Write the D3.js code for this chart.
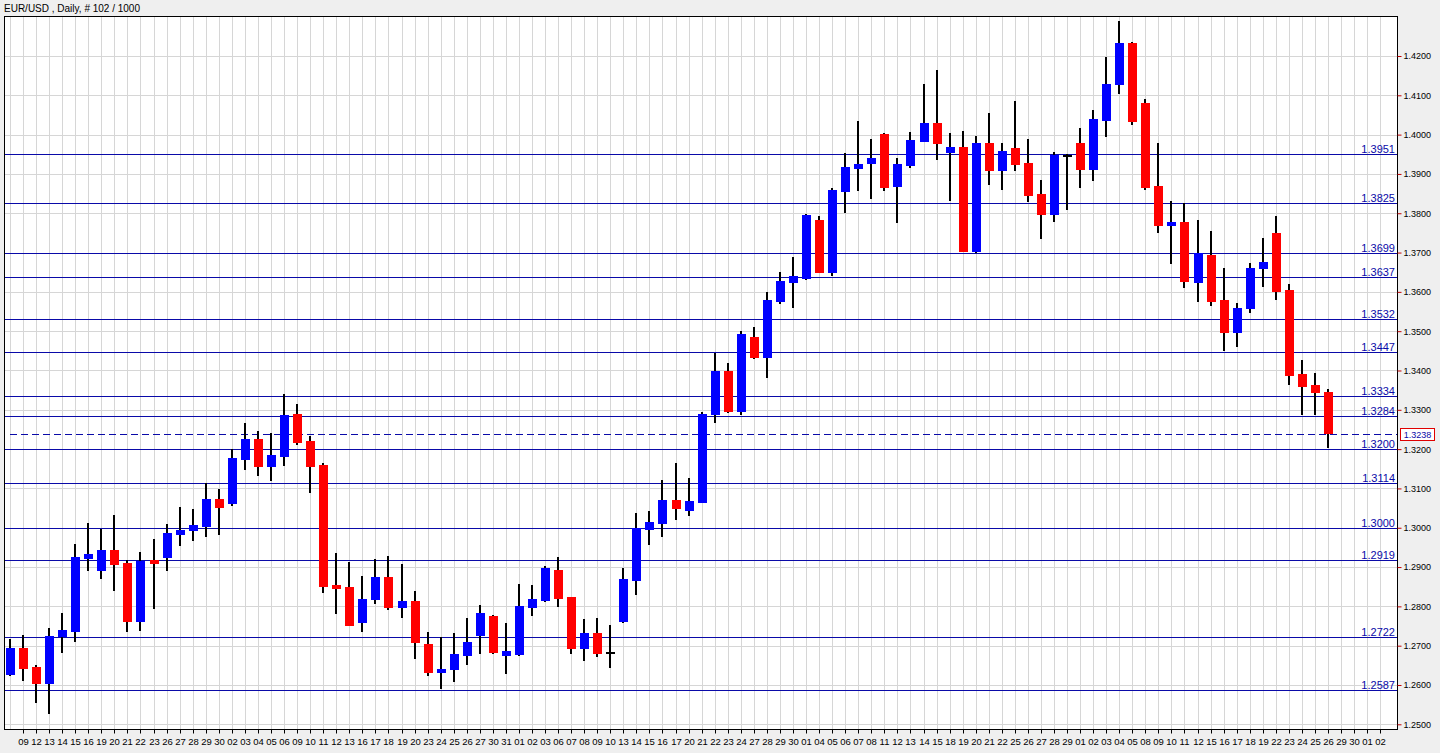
<!DOCTYPE html>
<html>
<head>
<meta charset="utf-8">
<script src="https://cdn.jsdelivr.net/npm/d3@7"></script>
<style>
  html, body { margin: 0; padding: 0; background: #efefef; }
  svg { display: block; }
  text { font-family: "Liberation Sans", Arial, sans-serif; }
</style>
</head>
<body>
<svg id="chart" width="1440" height="753"></svg>
<script>
// ---------------- data ----------------
const title = "EUR/USD , Daily, # 102 / 1000";

// x-axis labels for bar slots 1..105 (slot 0 unlabeled)
const dateLabels = [
  "09","12","13","14","15","16","19","20","21","22","23","26","27","28","29","30",
  "02","03","04","05","06","09","10","11","12","13","16","17","18","19","20","23","24","25","26","27",
  "30","31","01","02","03","06","07","08","09","10","13","14","15","16","17","20","21","22","23","24",
  "27","28","29","30","01","04","05","06","07","08","11","12","13","14","15","18",
  "19","20","21","22","25","26","27","28","29","01","02","03","04","05","08","09","10","11","12",
  "15","16","17","18","19","22","23","24","25","26","29","30","01","02"
];

const opens = [
  1.2625,1.2695,1.2646,1.2602,1.2721,1.2735,1.2921,1.2891,1.2943,1.2910,
  1.2761,1.2918,1.2922,1.2982,1.2991,1.3002,1.3073,1.3060,1.3172,1.3226,
  1.3155,1.3181,1.3290,1.3221,1.3160,1.2855,1.2850,1.2758,1.2815,1.2875,
  1.2797,1.2814,1.2704,1.2631,1.2637,1.2674,1.2724,1.2776,1.2674,1.2676,
  1.2797,1.2814,1.2892,1.2824,1.2692,1.2732,1.2681,1.2760,1.2865,1.2994,
  1.3010,1.3070,1.3043,1.3063,1.3287,1.3399,1.3295,1.3486,1.3433,1.3575,
  1.3623,1.3633,1.3783,1.3649,1.3855,1.3913,1.3926,1.4002,1.3868,1.3921,
  1.3982,1.4030,1.3952,1.3969,1.3701,1.3979,1.3908,1.3965,1.3928,1.3849,
  1.3796,1.3946,1.3979,1.3911,1.4035,1.4126,1.4233,1.4081,1.3869,1.3768,
  1.3779,1.3623,1.3694,1.3579,1.3496,1.3556,1.3657,1.3749,1.3605,1.3392,
  1.3363,1.3345
];
const highs = [
  1.2717,1.2727,1.2651,1.2744,1.2783,1.2958,1.3011,1.2996,1.3032,1.2918,
  1.2938,1.2971,1.3010,1.3054,1.3048,1.3114,1.3098,1.3200,1.3266,1.3246,
  1.3240,1.3339,1.3315,1.3233,1.3165,1.2937,1.2913,1.2877,1.2921,1.2928,
  1.2908,1.2840,1.2734,1.2723,1.2731,1.2770,1.2804,1.2779,1.2757,1.2858,
  1.2854,1.2902,1.2925,1.2825,1.2768,1.2771,1.2753,1.2897,1.3037,1.3043,
  1.3122,1.3164,1.3127,1.3294,1.3444,1.3420,1.3501,1.3511,1.3600,1.3651,
  1.3689,1.3798,1.3792,1.3865,1.3953,1.4035,1.3989,1.4005,1.3941,1.4007,
  1.4129,1.4164,1.4005,1.4009,1.3996,1.4054,1.3979,1.4086,1.3989,1.3885,
  1.3955,1.3951,1.4017,1.4063,1.4197,1.4289,1.4235,1.4091,1.3979,1.3831,
  1.3825,1.3783,1.3755,1.3660,1.3571,1.3673,1.3736,1.3793,1.3619,1.3427,
  1.3393,1.3354
];
const lows = [
  1.2624,1.2610,1.2553,1.2525,1.2682,1.2710,1.2891,1.2870,1.2840,1.2734,
  1.2737,1.2793,1.2891,1.2954,1.2966,1.2977,1.2982,1.3056,1.3147,1.3132,
  1.3120,1.3156,1.3210,1.3088,1.2833,1.2781,1.2749,1.2735,1.2805,1.2792,
  1.2771,1.2665,1.2624,1.2589,1.2608,1.2651,1.2678,1.2680,1.2627,1.2674,
  1.2775,1.2810,1.2799,1.2678,1.2660,1.2670,1.2644,1.2758,1.2829,1.2957,
  1.2977,1.3019,1.3031,1.3062,1.3267,1.3292,1.3287,1.3428,1.3382,1.3568,
  1.3560,1.3630,1.3647,1.3640,1.3800,1.3857,1.3835,1.3857,1.3776,1.3914,
  1.3982,1.3935,1.3831,1.3701,1.3700,1.3872,1.3859,1.3907,1.3829,1.3734,
  1.3778,1.3808,1.3865,1.3883,1.3995,1.4103,1.4024,1.3860,1.3751,1.3672,
  1.3610,1.3575,1.3565,1.3450,1.3461,1.3545,1.3612,1.3579,1.3362,1.3287,
  1.3287,1.3202
];
const closes = [
  1.2695,1.2641,1.2602,1.2724,1.2740,1.2925,1.2933,1.2943,1.2906,1.2761,
  1.2915,1.2908,1.2987,1.2994,1.3006,1.3073,1.3051,1.3177,1.3226,1.3155,
  1.3185,1.3287,1.3216,1.3155,1.2850,1.2845,1.2751,1.2818,1.2875,1.2796,
  1.2814,1.2708,1.2631,1.2641,1.2679,1.2709,1.2784,1.2682,1.2687,1.2801,
  1.2819,1.2897,1.2819,1.2692,1.2732,1.2680,1.2682,1.2869,1.2999,1.3015,
  1.3071,1.3048,1.3067,1.3289,1.3399,1.3295,1.3493,1.3433,1.3579,1.3628,
  1.3640,1.3796,1.3649,1.3859,1.3918,1.3925,1.3941,1.3865,1.3925,1.3986,
  1.4030,1.3976,1.3968,1.3701,1.3979,1.3908,1.3958,1.3923,1.3844,1.3796,
  1.3948,1.3947,1.3911,1.4040,1.4129,1.4233,1.4033,1.3863,1.3768,1.3779,
  1.3625,1.3698,1.3575,1.3496,1.3558,1.3660,1.3677,1.3600,1.3387,1.3359,
  1.3342,1.3238
];

const levels = [1.3951,1.3825,1.3699,1.3637,1.3532,1.3447,1.3334,1.3284,1.3200,1.3114,1.3000,1.2919,1.2722,1.2587];
const currentPrice = 1.3238;
const yTicks = [1.25,1.26,1.27,1.28,1.29,1.30,1.31,1.32,1.33,1.34,1.35,1.36,1.37,1.38,1.39,1.40,1.41,1.42];
const slotCount = 106;

// ---------------- layout ----------------
const svg = d3.select("#chart");
const plot = { left: 4, top: 16, right: 1397, bottom: 729 };

const x = d3.scaleLinear().domain([0, 105]).range([10, 10 + 105 * 13.05]);
const y = d3.scaleLinear().domain([1.25, 1.42]).range([724.3, 56]);

const col = {
  bull: "#0000ff", bear: "#ff0000", wick: "#000000",
  level: "#0a0aa8", grid: "#d6d6d6", tick: "#c00000"
};

// background
svg.append("rect").attr("x", 0).attr("y", 0).attr("width", 1440).attr("height", 753).attr("fill", "#efefef");
svg.append("rect").attr("x", plot.left).attr("y", plot.top)
  .attr("width", plot.right - plot.left).attr("height", plot.bottom - plot.top).attr("fill", "#ffffff");

svg.append("clipPath").attr("id", "pclip").append("rect")
  .attr("x", plot.left).attr("y", plot.top).attr("width", plot.right - plot.left).attr("height", plot.bottom - plot.top);

const g = svg.append("g").attr("clip-path", "url(#pclip)");

// grid
const slots = d3.range(slotCount);
g.selectAll("line.vg").data(slots).join("line")
  .attr("x1", i => Math.round(x(i)) + 0.5).attr("x2", i => Math.round(x(i)) + 0.5)
  .attr("y1", plot.top).attr("y2", plot.bottom)
  .attr("stroke", col.grid).attr("stroke-width", 1);
g.selectAll("line.hg").data(yTicks).join("line")
  .attr("x1", plot.left).attr("x2", plot.right)
  .attr("y1", v => Math.round(y(v)) + 0.5).attr("y2", v => Math.round(y(v)) + 0.5)
  .attr("stroke", col.grid).attr("stroke-width", 1);

// levels
g.selectAll("line.lv").data(levels).join("line")
  .attr("x1", plot.left).attr("x2", plot.right)
  .attr("y1", v => Math.round(y(v)) + 0.5).attr("y2", v => Math.round(y(v)) + 0.5)
  .attr("stroke", col.level).attr("stroke-width", 1);

// current price dashed
g.append("line")
  .attr("x1", 10).attr("x2", plot.right)
  .attr("y1", Math.round(y(currentPrice)) + 0.5).attr("y2", Math.round(y(currentPrice)) + 0.5)
  .attr("stroke", col.level).attr("stroke-width", 1).attr("stroke-dasharray", "7,4");

// candles
const bars = d3.range(opens.length).map(i => ({ i, o: opens[i], h: highs[i], l: lows[i], c: closes[i] }));
const isDoji = d => Math.abs(d.c - d.o) < 0.0003;
const cg = g.append("g");
cg.selectAll("rect.wick").data(bars).join("rect")
  .attr("x", d => Math.round(x(d.i)) - 1).attr("width", 2)
  .attr("y", d => Math.round(y(d.h))).attr("height", d => Math.max(1, Math.round(y(d.l)) - Math.round(y(d.h))))
  .attr("fill", col.wick);
cg.selectAll("rect.body").data(bars).join("rect")
  .attr("x", d => Math.round(x(d.i)) - 4).attr("width", 9)
  .attr("y", d => isDoji(d) ? Math.round(y((d.o + d.c) / 2)) - 1 : Math.round(y(Math.max(d.o, d.c))))
  .attr("height", d => isDoji(d) ? 2 : Math.max(2, Math.round(y(Math.min(d.o, d.c))) - Math.round(y(Math.max(d.o, d.c)))))
  .attr("fill", d => isDoji(d) ? col.wick : (d.c > d.o ? col.bull : col.bear));

// level labels
svg.selectAll("text.lvl").data(levels).join("text")
  .attr("x", 1395).attr("y", v => Math.round(y(v)) - 1)
  .attr("text-anchor", "end").attr("font-size", "11px").attr("fill", col.level)
  .text(v => v.toFixed(4));

// frame
svg.append("rect").attr("x", plot.left + 0.5).attr("y", plot.top + 0.5)
  .attr("width", plot.right - plot.left).attr("height", plot.bottom - plot.top)
  .attr("fill", "none").attr("stroke", "#000").attr("stroke-width", 1);

// right axis
const yAxis = d3.axisRight(y).tickValues(yTicks).tickSize(4).tickPadding(2).tickFormat(d3.format(".4f"));
const ya = svg.append("g").attr("transform", `translate(${plot.right + 0.5},0)`).call(yAxis);
ya.select(".domain").remove();
ya.selectAll(".tick line").attr("stroke", col.tick);
ya.selectAll(".tick text").attr("font-size", "9px").attr("fill", "#000").attr("font-family", "Liberation Sans, Arial, sans-serif");

// bottom axis
const xa = svg.append("g").attr("transform", `translate(0,${plot.bottom + 0.5})`);
xa.selectAll("line").data(slots.slice(1)).join("line")
  .attr("x1", i => Math.round(x(i)) + 0.5).attr("x2", i => Math.round(x(i)) + 0.5)
  .attr("y1", 0).attr("y2", 4).attr("stroke", "#000");
xa.selectAll("text").data(slots.slice(1)).join("text")
  .attr("x", i => Math.round(x(i)) + 0.5).attr("y", 15.5)
  .attr("text-anchor", "middle").attr("font-size", "9.5px").attr("fill", "#000")
  .text(i => dateLabels[i - 1]);

// current price box
const cpY = Math.round(y(currentPrice));
svg.append("rect").attr("x", 1400.5).attr("y", cpY - 5.5).attr("width", 34).attr("height", 12)
  .attr("fill", "#ffffff").attr("stroke", "#e00000").attr("stroke-width", 1);
svg.append("text").attr("x", 1417.5).attr("y", cpY + 4).attr("text-anchor", "middle")
  .attr("font-size", "9px").attr("fill", col.level).text(currentPrice.toFixed(4));

// title
svg.append("text").attr("x", 4).attr("y", 12).attr("font-size", "10px").attr("fill", "#000").text(title);
</script>
</body>
</html>
